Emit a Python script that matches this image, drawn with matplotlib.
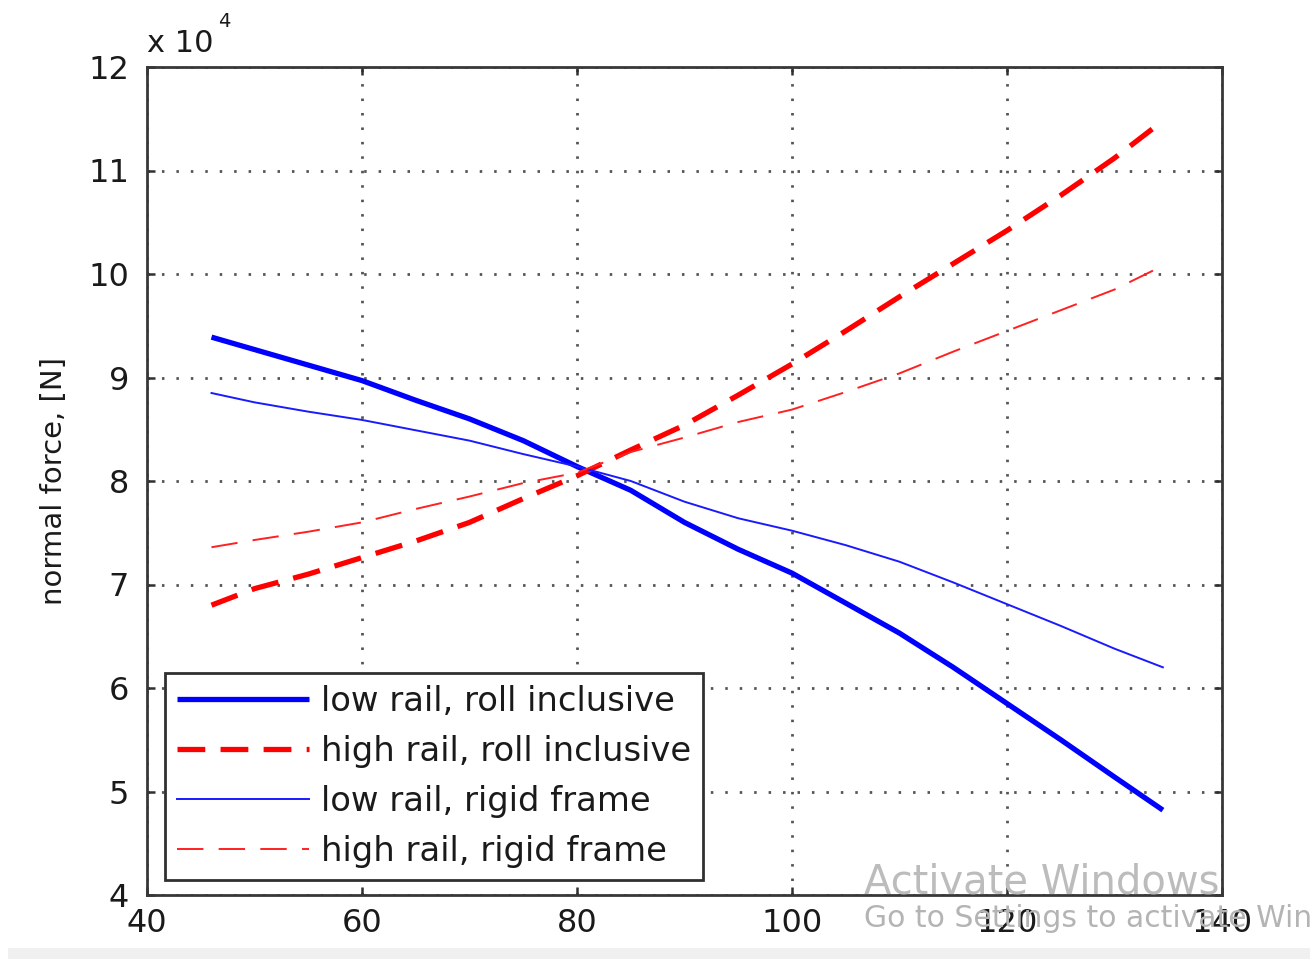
import matplotlib
matplotlib.use("Agg")
import matplotlib.pyplot as plt
from matplotlib.patches import Rectangle

# Speed values (x axis) and normal forces in units of 1e4 N
speed = [46, 50, 55, 60, 65, 70, 75, 80, 85, 90, 95, 100, 105, 110, 115, 120, 125, 130, 134.5]

low_roll = [9.39, 9.27, 9.12, 8.97, 8.78, 8.60, 8.39, 8.14, 7.91, 7.60, 7.34, 7.11,
            6.82, 6.53, 6.20, 5.85, 5.50, 5.14, 4.82]
high_roll = [6.80, 6.96, 7.10, 7.26, 7.42, 7.60, 7.83, 8.05, 8.30, 8.54, 8.83, 9.13,
             9.45, 9.78, 10.10, 10.42, 10.76, 11.12, 11.48]
low_rigid = [8.85, 8.76, 8.67, 8.59, 8.49, 8.39, 8.26, 8.14, 8.00, 7.80, 7.64, 7.52,
             7.38, 7.22, 7.02, 6.81, 6.60, 6.38, 6.20]
high_rigid = [7.36, 7.43, 7.51, 7.60, 7.73, 7.85, 7.98, 8.08, 8.28, 8.42, 8.57, 8.69,
              8.86, 9.04, 9.25, 9.45, 9.65, 9.85, 10.08]

labels = ["low rail, roll inclusive", "high rail, roll inclusive",
          "low rail, rigid frame", "high rail, rigid frame"]

x_ticks = [40, 60, 80, 100, 120, 140]
y_ticks = [4, 5, 6, 7, 8, 9, 10, 11, 12]

plt.rcParams["font.family"] = ["DejaVu Sans"]
plt.rcParams["lines.scale_dashes"] = False

fig = plt.figure(figsize=(13.1, 9.59), dpi=100)
W, H = 1310, 959
ax = fig.add_axes([147 / W, 1 - 895 / H, 1075 / W, 828 / H])

ax.plot(speed, low_roll, color="#0000ff", lw=3.8, solid_capstyle="butt", label=labels[0])
ax.plot(speed, high_roll, color="#ff0000", lw=3.8, linestyle=(0, (20, 11)), label=labels[1])
ax.plot(speed, low_rigid, color="#1a1aff", lw=1.4, label=labels[2])
ax.plot(speed, high_rigid, color="#ff2020", lw=1.4, linestyle=(0, (19, 11)), label=labels[3])

ax.set_xlim(40, 140)
ax.set_ylim(4, 12)
ax.set_xticks(x_ticks)
ax.set_yticks(y_ticks)
ax.set_xticklabels([str(v) for v in x_ticks])
ax.set_yticklabels([str(v) for v in y_ticks])

ax.grid(True, color="#555555", linestyle=(0, (1.8, 8.6)), linewidth=2.0)
ax.tick_params(direction="in", length=6, width=1.8, colors="#303030",
               labelcolor="#1a1a1a", labelsize=23, top=True, right=True)
ax.tick_params(axis="y", pad=13)
ax.tick_params(axis="x", pad=9)
for s in ax.spines.values():
    s.set_linewidth(2.0)
    s.set_color("#383838")

ax.set_ylabel("normal force, [N]", fontsize=21, color="#1a1a1a", labelpad=14)

leg = ax.legend(loc="lower left", bbox_to_anchor=(18 / 1075, 15 / 828),
                borderaxespad=0, fontsize=24.3, frameon=True, fancybox=False,
                edgecolor="#303030", framealpha=1, handlelength=3.9,
                handletextpad=0.35, labelspacing=0.5, borderpad=0.36)
leg.get_frame().set_linewidth(2.0)
for t in leg.get_texts():
    t.set_color("#1a1a1a")

# exponent label of the y axis
fig.text(147 / W, 1 - 52 / H, "x 10", fontsize=22, color="#1a1a1a", va="baseline")
fig.text(218 / W, 1 - 27 / H, "4", fontsize=14, color="#1a1a1a", va="baseline")

# screen overlay text and bottom strip
fig.text(864 / W, 1 - 893 / H, "Activate Windows", fontsize=28.8, color="#bcbcbc",
         va="baseline")
fig.text(864 / W, 1 - 927 / H, "Go to Settings to activate Windows.", fontsize=21.5,
         color="#b4b4b4", va="baseline")
fig.patches.append(Rectangle((8 / W, 0), 1, 11 / H, transform=fig.transFigure,
                             facecolor="#f0f0f0", edgecolor="none"))

fig.savefig("out.png", dpi=100)
